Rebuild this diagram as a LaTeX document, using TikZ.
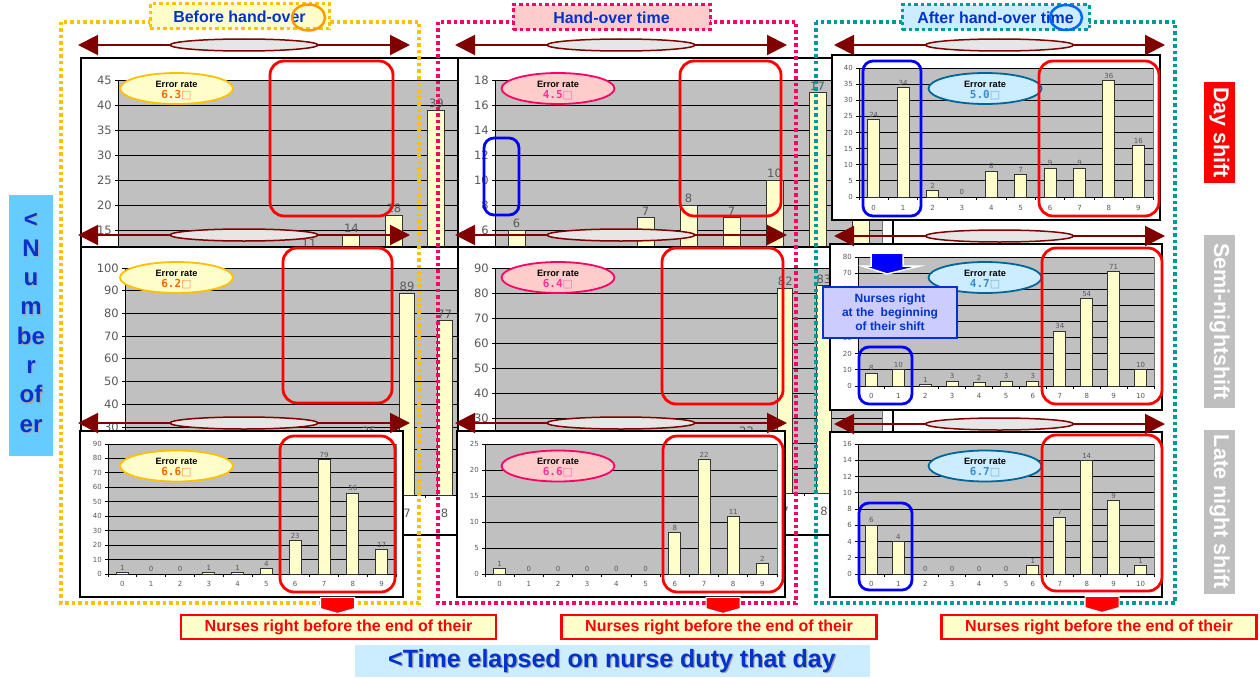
\documentclass[tikz,border=0pt]{standalone}
\usepackage{fontspec}
\setmainfont{Liberation Sans}
\newfontfamily\dvs{DejaVu Sans}
\newfontfamily\dvm{DejaVu Sans Mono}
\usetikzlibrary{shapes.geometric,arrows.meta,calc}

\definecolor{gold}{HTML}{FFC000}
\definecolor{hotpink}{HTML}{FF0066}
\definecolor{tealdot}{HTML}{009999}
\definecolor{titleblue}{HTML}{0033CC}
\definecolor{lyellow}{HTML}{FFFFCC}
\definecolor{lpink}{HTML}{FFCCCC}
\definecolor{lblue}{HTML}{CCECFF}
\definecolor{skyb}{HTML}{66CCFF}
\definecolor{darkred}{HTML}{800000}
\definecolor{plotgray}{HTML}{C0C0C0}
\definecolor{axgray}{HTML}{595959}
\definecolor{ovalgray}{HTML}{E6E6E6}
\definecolor{lavender}{HTML}{CCCCFF}
\definecolor{shiftgray}{HTML}{BFBFBF}
\definecolor{rateorange}{HTML}{FF6600}
\definecolor{ratepink}{HTML}{FF3399}
\definecolor{rateblue}{HTML}{3A8FC9}
\definecolor{ovaledge}{HTML}{006699}
\definecolor{ringorange}{HTML}{FF9900}
\definecolor{ringblue}{HTML}{0066FF}

\tikzset{
  frameline/.style={draw=black, line width=1.3pt},
  plotedge/.style={draw=black!55, line width=0.8pt},
  gridline/.style={draw=black, line width=0.8pt},
  axisline/.style={draw=black, line width=1pt},
  barbox/.style={fill=lyellow, draw=black!80, line width=0.9pt},
  bigtick/.style={font=\dvs\fontsize{11.5}{12}\selectfont, text=axgray, inner sep=1pt},
  smalltick/.style={font=\dvs\fontsize{7}{8}\selectfont, text=axgray, inner sep=1pt},
  tk/.style={bigtick},
  rateoval/.style={ellipse, minimum width=113, minimum height=31, inner sep=0, line width=1.8pt},
  ovalL/.style={rateoval, draw=gold, fill=lyellow},
  ovalM/.style={rateoval, draw=hotpink, fill=lpink},
  ovalR/.style={rateoval, draw=ovaledge, fill=lblue},
  ratehead/.style={font=\bfseries\fontsize{9.2}{10}\selectfont, inner sep=0},
  rateval/.style={font=\dvm\bfseries\fontsize{11}{11}\selectfont, inner sep=0},
  colframe/.style={line width=3.5pt, dash pattern=on 3.5pt off 3pt},
  titlebox/.style={rectangle, colframe, line width=3pt, inner sep=0,
    text=titleblue, font=\bfseries\fontsize{16}{18}\selectfont},
  ring/.style={ellipse, draw, line width=2.5pt, inner sep=0},
  dblarrow/.style={draw=darkred, line width=2pt,
    {Triangle[length=20pt,width=20pt]}-{Triangle[length=20pt,width=20pt]}},
  midoval/.style={ellipse, fill=ovalgray, draw=darkred, line width=1.5pt,
    minimum width=148, minimum height=12, inner sep=0},
  redbox/.style={rectangle, draw=red, line width=2.8pt, rounded corners=14pt, inner sep=0},
  bluebox/.style={rectangle, draw=blue, line width=2.8pt, rounded corners=10pt, inner sep=0},
  nursebox/.style={rectangle, fill=lyellow, draw=red, line width=2.5pt, inner sep=0,
    minimum width=315, minimum height=24, text=red, font=\bfseries\fontsize{16}{18}\selectfont},
  shiftlab/.style={rectangle, rotate=-90, inner sep=0, minimum height=31, text=white,
    font=\bfseries\fontsize{21.5}{24}\selectfont},
}

% geometry of one chart: id, frame corners, plot left/top/right/zero line
\newcommand\ChartGeom[9]{\def\cid{#1}\def\fxa{#2}\def\fya{#3}\def\fxb{#4}\def\fyb{#5}%
  \def\pxa{#6}\def\pya{#7}\def\pxb{#8}\def\pyz{#9}}
% data of one chart: y max, y step, categories, bar width, label gap, category/value list
\newcommand\ChartData[6]{\def\ymax{#1}\def\ystep{#2}\def\ncat{#3}\def\bw{#4}%
  \def\xgap{#5}\def\vals{#6}\DrawChart}

\newcommand\DrawChart{%
  \pgfmathsetmacro\vsc{(\pyz-\pya)/\ymax}%
  \pgfmathsetmacro\pitch{(\pxb-\pxa)/\ncat}%
  \pgfmathtruncatemacro\nlines{round(\ymax/\ystep)}%
  \pgfmathtruncatemacro\lastcat{\ncat-1}%
  \fill[white] (\fxa,\fya) rectangle (\fxb,\fyb);
  \draw[frameline] (\fxa,\fya) rectangle (\fxb,\fyb);
  \fill[plotgray] (\pxa,\pya) rectangle (\pxb,\pyz);
  \draw[plotedge] (\pxa,\pya) -- (\pxb,\pya) -- (\pxb,\pyz);
  \foreach \i in {0,...,\nlines}{%
    \pgfmathsetmacro\gy{\pyz-\i*\ystep*\vsc}%
    \pgfmathtruncatemacro\gv{\i*\ystep}%
    \draw[gridline] (\pxa-3,\gy) -- (\pxb,\gy);
    \node[tk,anchor=east] (\cid-y\i) at (\pxa-5,\gy) {\gv};
  }%
  \draw[axisline] (\pxa,\pya) -- (\pxa,\pyz) -- (\pxb,\pyz);
  \foreach \c in {0,...,\ncat}{%
    \draw[axisline] (\pxa+\c*\pitch,\pyz) -- (\pxa+\c*\pitch,\pyz+3);
  }%
  \foreach \c in {0,...,\lastcat}{%
    \node[tk,anchor=north] (\cid-x\c) at (\pxa+\c*\pitch+\pitch/2,\pyz+\xgap) {\c};
  }%
  \foreach \c/\v in \vals{%
    \pgfmathsetmacro\bcx{\pxa+(\c+0.5)*\pitch}%
    \pgfmathsetmacro\bty{\pyz-\v*\vsc}%
    \ifnum\v>0 \draw[barbox] (\bcx-\bw/2,\bty) rectangle (\bcx+\bw/2,\pyz);\fi
    \node[tk,anchor=south] (\cid-v\c) at (\bcx,\bty-1) {\v};
  }%
}

% error-rate oval: name, x, y, style, value, colour
\newcommand\RateOval[6]{%
  \node[#4] (#1) at (#2,#3) {};
  \node[ratehead] (#1-h) at ([yshift=4.5pt]#1.center) {Error rate};
  \node[rateval, text=#6] (#1-v) at ([yshift=-6.5pt]#1.center) {#5{\dvs\mdseries\color{#6!70}□}};
}
% highlight box: name, style, x1, y1, x2, y2
\newcommand\HBox[6]{%
  \node[#2, minimum width={#5-#3}, minimum height={#6-#4}] (#1) at ({(#3+#5)/2},{(#4+#6)/2}) {};}
% double-headed span arrow with its oval: name, x1, x2, y
\newcommand\SpanArrow[4]{%
  \coordinate (#1-a) at (#2,#4);
  \coordinate (#1-b) at (#3,#4);
  \draw[dblarrow] (#1-a) -- (#1-b);
  \node[midoval] (#1-o) at ($(#1-a)!0.5!(#1-b)$) {};}
% red block arrow under a highlight box
\newcommand\DownArrow[1]{%
  \fill[red, draw=white, line width=1pt] ([xshift=-17pt,yshift=-4pt]#1.south) -- ++(34,0) -- ++(0,10)
    -- ++(4,0) -- ++(-21,6) -- ++(-21,-6) -- ++(4,0) -- cycle;}

\begin{document}
\begin{tikzpicture}[x=1pt,y=-1pt]
\useasboundingbox (0,0) rectangle (1260,677);
\fill[white] (0,0) rectangle (1260,677);

% ---- enlarged day / semi-night charts (before and during hand-over)
\tikzset{tk/.style={bigtick}}
\ChartGeom{A1}{81}{58}{510}{330}{118}{80}{500}{305}
\ChartData{45}{5}{9}{17}{13}{4/11,5/14,6/18,7/39}
\RateOval{eA1}{176.5}{88.5}{ovalL}{6.3}{rateorange}

\ChartGeom{B1}{458}{58}{893}{330}{495}{80}{882}{305}
\ChartData{18}{2}{9}{17}{13}{0/6,3/7,4/8,5/7,6/10,7/17,8/15}
\RateOval{eB1}{558}{88.5}{ovalM}{4.5}{ratepink}

\ChartGeom{A2}{81}{247}{511}{535}{125}{268}{501}{495}
\ChartData{100}{10}{10}{15}{13}{6/25,7/89,8/77}
\RateOval{eA2}{176.5}{277.5}{ovalL}{6.2}{rateorange}

\ChartGeom{B2}{458}{247}{893}{535}{495}{268}{882}{493}
\ChartData{90}{10}{10}{15}{13}{6/22,7/82,8/83}
\RateOval{eB2}{558}{277.5}{ovalM}{6.4}{ratepink}

% ---- regular-size charts
\tikzset{tk/.style={smalltick}}
\ChartGeom{A3}{80}{431}{403}{597}{108}{444}{396}{574}
\ChartData{90}{10}{10}{12}{6}{0/1,1/0,2/0,3/1,4/1,5/4,6/23,7/79,8/56,9/17}
\RateOval{eA3}{176.5}{466}{ovalL}{6.6}{rateorange}

\ChartGeom{B3}{457}{431}{785}{597}{485}{444}{777}{574}
\ChartData{25}{5}{10}{12}{6}{0/1,1/0,2/0,3/0,4/0,5/0,6/8,7/22,8/11,9/2}
\RateOval{eB3}{558}{466}{ovalM}{6.6}{ratepink}

\ChartGeom{C1}{832}{55}{1160}{220}{859}{68}{1153}{197}
\ChartData{40}{5}{10}{12}{7}{0/24,1/34,2/2,3/0,4/8,5/7,6/9,7/9,8/36,9/16}
\RateOval{eC1}{985}{88.5}{ovalR}{5.0}{rateblue}

\ChartGeom{C2}{830}{244}{1162}{410}{858}{257}{1154}{386}
\ChartData{80}{10}{11}{12}{6}{0/8,1/10,2/1,3/3,4/2,5/3,6/3,7/34,8/54,9/71,10/10}
\RateOval{eC2}{985}{277.5}{ovalR}{4.7}{rateblue}

\ChartGeom{C3}{830}{432}{1162}{597}{858}{444}{1154}{574}
\ChartData{16}{2}{11}{12}{6}{0/6,1/4,2/0,3/0,4/0,5/0,6/1,7/7,8/14,9/9,10/1}
\RateOval{eC3}{985}{466}{ovalR}{6.7}{rateblue}

% ---- dotted column frames
\draw[colframe, draw=gold] (61,22) rectangle (419,603);
\draw[colframe, draw=hotpink] (438,22) rectangle (796,603);
\draw[colframe, draw=tealdot] (816,22) rectangle (1175,603);

% ---- column titles
\node[titlebox, draw=gold, fill=lyellow, minimum width=179, minimum height=25] (tBefore) at (239.5,16.5) {Before hand-over};
\node[ring, draw=ringorange, minimum width=33, minimum height=26] (ringBefore) at (308.5,17.5) {};
\node[titlebox, draw=hotpink, fill=lpink, minimum width=197, minimum height=25] (tDuring) at (611.5,17.5) {Hand-over time};
\node[titlebox, draw=tealdot, fill=lblue, minimum width=187, minimum height=25] (tAfter) at (995.5,17.5) {After hand-over time};
\node[ring, draw=ringblue, minimum width=32, minimum height=25] (ringAfter) at (1066,17.5) {};

% ---- span arrows over each row
\SpanArrow{L1}{78}{410}{45}
\SpanArrow{L2}{78}{410}{235}
\SpanArrow{L3}{78}{410}{423}
\SpanArrow{M1}{455}{787}{45}
\SpanArrow{M2}{455}{787}{235}
\SpanArrow{M3}{455}{787}{423}
\SpanArrow{R1}{834}{1165}{45}
\SpanArrow{R2}{834}{1165}{236}
\SpanArrow{R3}{834}{1165}{424}

% ---- highlight boxes
\HBox{rA1}{redbox}{270}{61}{393}{216}
\HBox{rA2}{redbox}{283}{248}{392}{403}
\HBox{rA3}{redbox}{280}{436}{395}{592}
\HBox{rB1}{redbox}{680}{61}{781}{216}
\HBox{rB2}{redbox}{662}{248}{783}{404}
\HBox{rB3}{redbox}{663}{436}{783}{592}
\HBox{rC1}{redbox}{1039}{61}{1159}{216}
\HBox{rC2}{redbox}{1042}{248}{1162}{404}
\HBox{rC3}{redbox}{1042}{435}{1162}{591}
\HBox{bB1}{bluebox}{484}{138}{519}{215}
\HBox{bC1}{bluebox}{863}{61}{921}{216}
\HBox{bC2}{bluebox}{859}{347}{912}{404}
\HBox{bC3}{bluebox}{859}{503}{912}{590}

% ---- block arrows and notes
\DownArrow{rA3}
\DownArrow{rB3}
\DownArrow{rC3}
\node[nursebox] (nA) at (338.5,627) {Nurses right before the end of their};
\node[nursebox] (nB) at (719,627) {Nurses right before the end of their};
\node[nursebox] (nC) at (1099,627) {Nurses right before the end of their};

\fill[blue, draw=white, line width=1.5pt] (871,253) -- (903,253) -- (903,266) -- (920,266)
  -- (887,274) -- (862,266) -- (871,266) -- cycle;
\node[rectangle, fill=lavender, draw=titleblue, line width=2.5pt, minimum width=134,
  minimum height=51, inner sep=0, align=center, text=titleblue,
  font=\bfseries\fontsize{12}{14}\selectfont] (beginNote) at (890,312.5)
  {Nurses right\\at the\ \ beginning\\of their shift};

% ---- shift labels
\node[shiftlab, fill=red, minimum width=101] (sDay) at (1219.5,132.5) {Day shift};
\node[shiftlab, fill=shiftgray, minimum width=173] (sSemi) at (1219.5,321.5) {Semi-nightshift};
\node[shiftlab, fill=shiftgray, minimum width=164] (sLate) at (1219.5,512) {Late night shift};

% ---- axis captions
\fill[skyb] (9,195) rectangle (53,456);
\node[align=center, text=black!35, font=\bfseries\fontsize{24}{29.3}\selectfont] (numShadow) at (32.2,323.7)
  {<\\N\\u\\m\\be\\r\\of\\er};
\node[align=center, text=titleblue, font=\bfseries\fontsize{24}{29.3}\selectfont] (numLabel) at (31,322.5)
  {<\\N\\u\\m\\be\\r\\of\\er};
\fill[lblue] (355,645) rectangle (870,677);
\node[text=black!35, font=\bfseries\fontsize{25}{28}\selectfont] (timeShadow) at (613.2,662.2)
  {<Time elapsed on nurse duty that day};
\node[text=titleblue, font=\bfseries\fontsize{25}{28}\selectfont] (timeLabel) at (612,661)
  {<Time elapsed on nurse duty that day};
\end{tikzpicture}
\end{document}
